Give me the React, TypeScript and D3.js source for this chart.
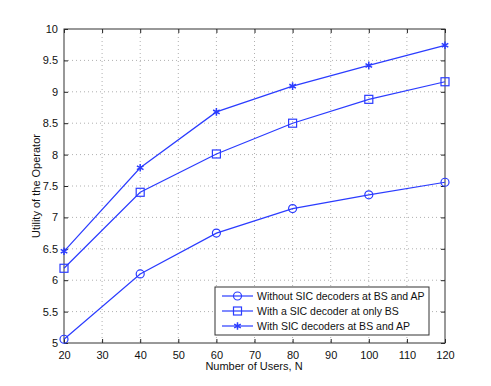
import * as d3 from "d3";
import React, { useEffect, useRef } from "react";

const users = [20, 40, 60, 80, 100, 120];
const withoutSic = [5.06, 6.1, 6.75, 7.14, 7.36, 7.56];
const sicAtBs = [6.19, 7.4, 8.01, 8.5, 8.88, 9.16];
const sicAtBoth = [6.46, 7.79, 8.68, 9.09, 9.42, 9.74];
const seriesNames = [
  "Without SIC decoders at BS and AP",
  "With a SIC decoder at only BS",
  "With SIC decoders at BS and AP",
];
const xTicks = [20, 30, 40, 50, 60, 70, 80, 90, 100, 110, 120];
const yTicks = [5, 5.5, 6, 6.5, 7, 7.5, 8, 8.5, 9, 9.5, 10];

const width = 491;
const height = 386;
const blue = "#2b3cff";
const font = "'Liberation Sans', Arial, sans-serif";

const App = () => {
  const ref = useRef<HTMLDivElement>(null);

  useEffect(() => {
    const x = d3.scaleLinear().domain([20, 120]).range([64, 445]);
    const y = d3.scaleLinear().domain([5, 10]).range([343, 29]);

    const svg = d3.create("svg").attr("width", width).attr("height", height)
      .style("display", "block").style("font-family", font);

    svg.append("rect").attr("width", width).attr("height", height).attr("fill", "white");

    // grid
    const grid = svg.append("g").attr("stroke", "#b0b0b0").attr("stroke-width", 1)
      .attr("stroke-dasharray", "1,3");
    xTicks.slice(1, -1).forEach(t => {
      grid.append("line").attr("x1", x(t)).attr("x2", x(t)).attr("y1", 29).attr("y2", 343);
    });
    yTicks.slice(1, -1).forEach(t => {
      grid.append("line").attr("x1", 64).attr("x2", 445).attr("y1", y(t)).attr("y2", y(t));
    });

    // axes with inward ticks
    svg.append("g").attr("transform", "translate(0,343)")
      .call(d3.axisBottom(x).tickValues(xTicks).tickSizeInner(-4).tickSizeOuter(0).tickPadding(8))
      .call(g => g.select(".domain").remove());
    svg.append("g").attr("transform", "translate(0,29)")
      .call(d3.axisTop(x).tickValues(xTicks).tickSizeInner(-4).tickSizeOuter(0).tickFormat(() => ""))
      .call(g => g.select(".domain").remove());
    svg.append("g").attr("transform", "translate(64,0)")
      .call(d3.axisLeft(y).tickValues(yTicks).tickSizeInner(-4).tickSizeOuter(0).tickPadding(6)
        .tickFormat(d3.format("~g")))
      .call(g => g.select(".domain").remove());
    svg.append("g").attr("transform", "translate(445,0)")
      .call(d3.axisRight(y).tickValues(yTicks).tickSizeInner(-4).tickSizeOuter(0).tickFormat(() => ""))
      .call(g => g.select(".domain").remove());
    svg.selectAll(".tick text").attr("font-size", 11).attr("font-family", font).attr("fill", "#111");
    svg.selectAll(".tick line").attr("stroke", "#222");

    svg.append("rect").attr("x", 64).attr("y", 29).attr("width", 381).attr("height", 314)
      .attr("fill", "none").attr("stroke", "#333").attr("stroke-width", 1);

    const line = d3.line<number>().x((_, i) => x(users[i])).y(d => y(d));
    const all = [withoutSic, sicAtBs, sicAtBoth];

    const marker = (g: any, kind: number, cx: number, cy: number) => {
      if (kind === 0) {
        g.append("circle").attr("cx", cx).attr("cy", cy).attr("r", 4)
          .attr("fill", "none").attr("stroke", blue).attr("stroke-width", 1.2);
      } else if (kind === 1) {
        g.append("rect").attr("x", cx - 4).attr("y", cy - 4).attr("width", 8).attr("height", 8)
          .attr("fill", "none").attr("stroke", blue).attr("stroke-width", 1.2);
      } else {
        g.append("path").attr("transform", `translate(${cx},${cy})`)
          .attr("d", d3.symbol(d3.symbolAsterisk, 40)()!)
          .attr("fill", "none").attr("stroke", blue).attr("stroke-width", 1.5);
      }
    };

    all.forEach((s, k) => {
      svg.append("path").attr("d", line(s)).attr("fill", "none").attr("stroke", blue).attr("stroke-width", 1.2);
      s.forEach((v, i) => marker(svg, k, x(users[i]), y(v)));
    });

    // legend
    const lg = svg.append("g");
    lg.append("rect").attr("x", 215).attr("y", 287).attr("width", 214).attr("height", 48)
      .attr("fill", "white").attr("stroke", "#333").attr("stroke-width", 1);
    seriesNames.forEach((name, k) => {
      const ly = 296 + k * 15;
      lg.append("line").attr("x1", 222).attr("x2", 253).attr("y1", ly).attr("y2", ly)
        .attr("stroke", blue).attr("stroke-width", 1.2);
      marker(lg, k, 237.5, ly);
      lg.append("text").attr("x", 257).attr("y", ly + 4).attr("font-size", 10.5).attr("fill", "#111").text(name);
    });

    // labels
    svg.append("text").attr("x", 254).attr("y", 370).attr("text-anchor", "middle")
      .attr("font-size", 11).attr("fill", "#111").text("Number of Users, N");
    svg.append("text").attr("transform", `translate(40,${186}) rotate(-90)`).attr("text-anchor", "middle")
      .attr("font-size", 11).attr("fill", "#111").text("Utility of the Operator");

    if (ref.current) {
      ref.current.innerHTML = "";
      ref.current.appendChild(svg.node()!);
    }
  }, []);

  return <div ref={ref} style={{ margin: -8 }}></div>;
};

export default App;
